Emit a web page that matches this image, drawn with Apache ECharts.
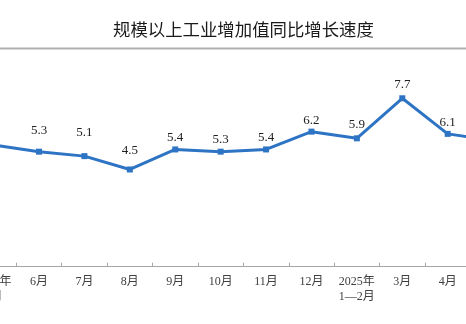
<!DOCTYPE html>
<html>
<head>
<meta charset="utf-8">
<script src="https://cdn.jsdelivr.net/npm/echarts@6/dist/echarts.min.js"></script>
<style>
  html, body { margin: 0; padding: 0; background: #fff; overflow: hidden; width: 466px; height: 324px; }
  #frame { position: relative; width: 466px; height: 324px; overflow: hidden; }
  /* the plot runs wider than the visible frame, so the first and last months are cut by its edges */
  #chart { position: absolute; left: -60px; top: 0; width: 600px; height: 324px; }
</style>
</head>
<body>
<div id="frame"><div id="chart"></div></div>
<script>
// Monthly year-on-year growth of value added of industry above designated size (%)
const categories = ['2024年\n5月', '6月', '7月', '8月', '9月', '10月', '11月', '12月', '2025年\n1—2月', '3月', '4月', '5月'];
const growth = [5.6, 5.3, 5.1, 4.5, 5.4, 5.3, 5.4, 6.2, 5.9, 7.7, 6.1, 5.8];
// extra lift of each value label above its marker
const labelLift = [2.5, 11.5, 14, 9, 2.5, 2.5, 2.5, 1.5, 4.5, 4.5, 1.5, 2.5];

const serif = "'Liberation Serif', 'Times New Roman', 'Noto Sans CJK SC', serif";
const lineColor = '#2E74C4';

const chart = echarts.init(document.getElementById('chart'), null, { renderer: 'canvas' });

chart.setOption({
  animation: false,
  backgroundColor: '#ffffff',
  title: {
    text: '规模以上工业增加值同比增长速度',
    left: 173,
    top: 21,
    padding: 0,
    textStyle: {
      fontFamily: "'Noto Sans CJK SC', sans-serif",
      fontSize: 17.4,
      fontWeight: 'normal',
      color: '#1a1a1a'
    }
  },
  graphic: [{
    // separator rule under the heading
    type: 'line',
    shape: { x1: 0, y1: 48.5, x2: 600, y2: 48.5 },
    style: { stroke: '#b0b0b0', lineWidth: 2 },
    silent: true
  }],
  grid: { left: 30.9, right: 24.2, top: 47.1, bottom: 54.4 },
  xAxis: {
    type: 'category',
    data: categories,
    boundaryGap: true,
    offset: -2.9,
    axisLine: { show: true, lineStyle: { color: '#a6a6a6', width: 1 } },
    axisTick: { show: true, inside: true, length: 4, lineStyle: { color: '#a6a6a6' } },
    axisLabel: {
      margin: 8,
      fontFamily: serif,
      fontSize: 12,
      lineHeight: 15,
      color: '#404040',
      interval: 0
    },
    splitLine: { show: false }
  },
  yAxis: {
    type: 'value',
    min: 0,
    max: 10,
    show: false,
    splitLine: { show: false }
  },
  series: [{
    type: 'line',
    data: growth.map((v, i) => ({
      value: v,
      label: { distance: labelLift[i], show: i > 0 }
    })),
    symbol: 'rect',
    symbolSize: 6,
    lineStyle: { color: lineColor, width: 3 },
    itemStyle: { color: lineColor },
    label: {
      show: true,
      position: 'top',
      fontFamily: serif,
      fontSize: 13,
      color: '#222222'
    }
  }]
});
</script>
</body>
</html>
